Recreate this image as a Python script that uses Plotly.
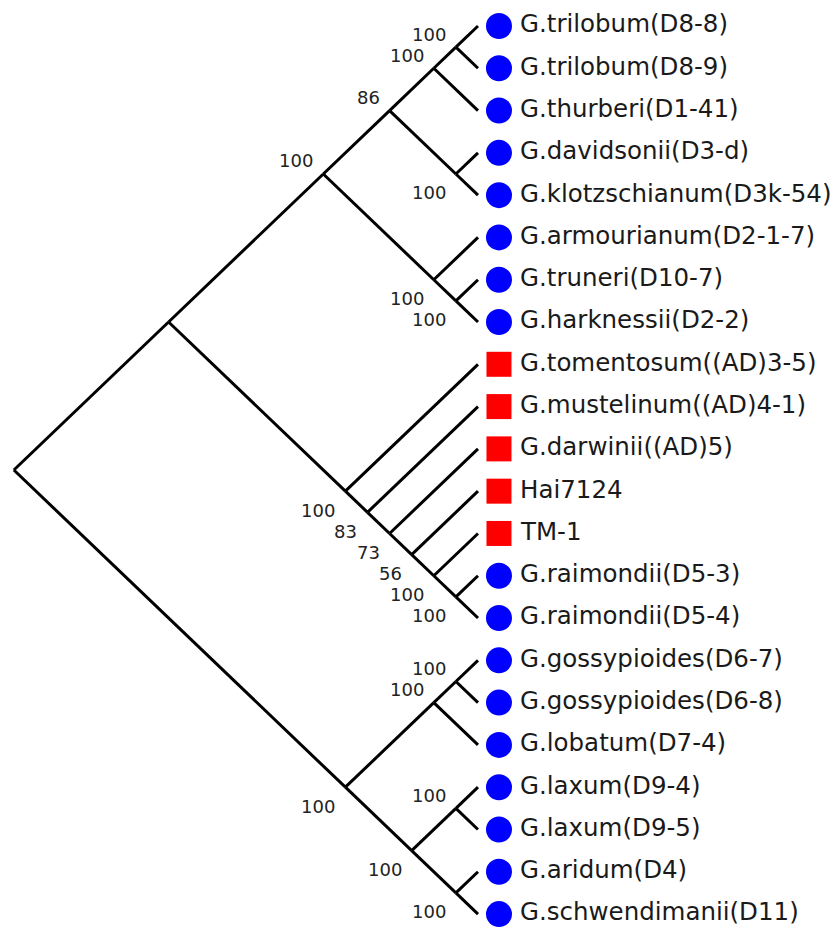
import plotly.graph_objects as go

# ---- data ----
leaf_names = [
    "G.trilobum(D8-8)", "G.trilobum(D8-9)", "G.thurberi(D1-41)", "G.davidsonii(D3-d)",
    "G.klotzschianum(D3k-54)", "G.armourianum(D2-1-7)", "G.truneri(D10-7)", "G.harknessii(D2-2)",
    "G.tomentosum((AD)3-5)", "G.mustelinum((AD)4-1)", "G.darwinii((AD)5)", "Hai7124", "TM-1",
    "G.raimondii(D5-3)", "G.raimondii(D5-4)", "G.gossypioides(D6-7)", "G.gossypioides(D6-8)",
    "G.lobatum(D7-4)", "G.laxum(D9-4)", "G.laxum(D9-5)", "G.aridum(D4)", "G.schwendimanii(D11)",
]
leaf_genome = ["D"] * 8 + ["AD"] * 5 + ["D"] * 9
# tree topology (leaf indices) with bootstrap support values
newick = ("((((((0,1)100,2)100,(3,4)100)86,(5,(6,7)100)100)100,"
          "(8,(9,(10,(11,(12,(13,14)100)100)56)73)83)100),"
          "(((15,16)100,17)100,((18,19)100,(20,21)100)100)100);")


def parse(s):
    pos = 0

    def node():
        nonlocal pos
        if s[pos] == "(":
            pos += 1
            kids = [node()]
            while s[pos] == ",":
                pos += 1
                kids.append(node())
            pos += 1  # ')'
            lab = ""
            while pos < len(s) and s[pos] not in ",);":
                lab += s[pos]
                pos += 1
            return {"kids": kids, "support": lab}
        num = ""
        while s[pos].isdigit():
            num += s[pos]
            pos += 1
        return {"leaf": int(num)}
    return node()


tree = parse(newick)


def layout_node(n):
    if "leaf" in n:
        n["lo"] = n["hi"] = n["leaf"]
    else:
        for k in n["kids"]:
            layout_node(k)
        n["lo"] = min(k["lo"] for k in n["kids"])
        n["hi"] = max(k["hi"] for k in n["kids"])
    n["y"] = (n["lo"] + n["hi"]) / 2
    n["x"] = -(n["hi"] - n["lo"]) / 2


layout_node(tree)

ex, ey = [], []
annots = []


def walk(n):
    if "leaf" in n:
        return
    for k in n["kids"]:
        ex.extend([n["x"], k["x"], None])
        ey.extend([n["y"], k["y"], None])
        if "kids" in k and k["support"]:
            upper = k["y"] < n["y"]
            annots.append(dict(x=k["x"], y=k["y"], text=k["support"], showarrow=False,
                               xanchor="right", yanchor="middle", xshift=-8,
                               yshift=13 if upper else -19,
                               font=dict(family="DejaVu Sans", size=18, color="#222")))
        walk(k)


walk(tree)

fig = go.Figure()
fig.add_trace(go.Scatter(x=ex, y=ey, mode="lines", line=dict(color="black", width=3),
                         hoverinfo="skip", showlegend=False))

mx = 0.475
idx = list(range(len(leaf_names)))
d_idx = [i for i in idx if leaf_genome[i] == "D"]
ad_idx = [i for i in idx if leaf_genome[i] == "AD"]
fig.add_trace(go.Scatter(x=[mx] * len(d_idx), y=d_idx, mode="markers",
                         marker=dict(symbol="circle", size=26, color="#0000FF"),
                         showlegend=False))
fig.add_trace(go.Scatter(x=[mx] * len(ad_idx), y=ad_idx, mode="markers",
                         marker=dict(symbol="square", size=25, color="#FF0000"),
                         showlegend=False))

tx = 0.915
for i, name in enumerate(leaf_names):
    annots.append(dict(x=tx, y=i - 0.05, text=name, showarrow=False, xanchor="left",
                       yanchor="middle",
                       font=dict(family="DejaVu Sans", size=24.5, color="#1a1a1a")))

fig.update_layout(
    width=830, height=921, margin=dict(l=0, r=0, t=0, b=0),
    paper_bgcolor="white", plot_bgcolor="white",
    xaxis=dict(range=[-10.633, 8.145], visible=False, fixedrange=True),
    yaxis=dict(range=[21.353, -0.425], visible=False, fixedrange=True),
    annotations=annots,
)
fig.write_html("out.html")
